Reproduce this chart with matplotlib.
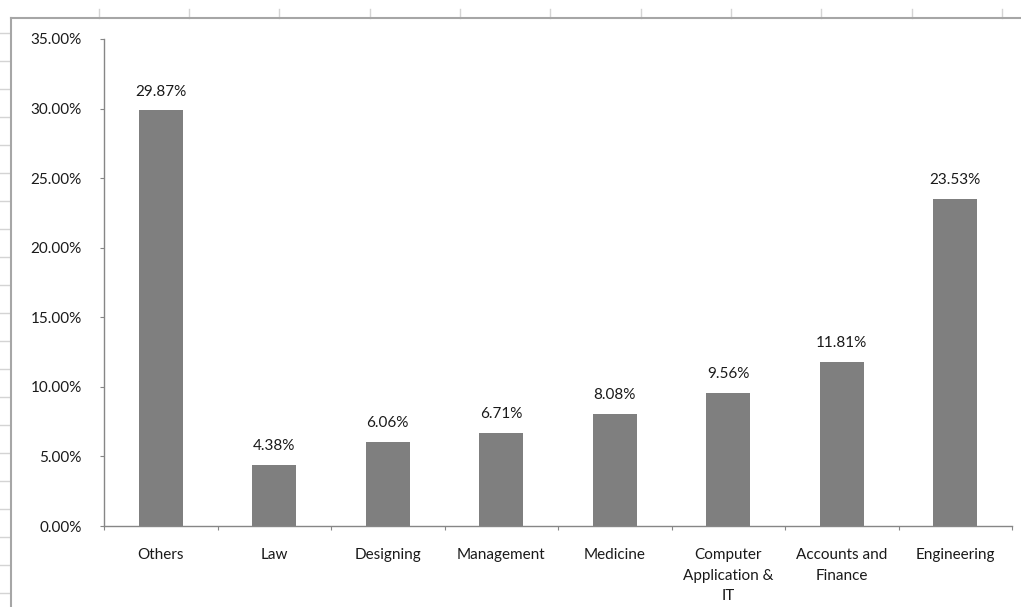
import matplotlib
matplotlib.use("Agg")
import matplotlib.pyplot as plt
from matplotlib.lines import Line2D

categories=["Others","Law","Designing","Management","Medicine",
            "Computer\nApplication &\nIT","Accounts and\nFinance","Engineering"]
shares=[29.87,4.38,6.06,6.71,8.08,9.56,11.81,23.53]
y_ticks=[0,5,10,15,20,25,30,35]

plt.rcParams["font.family"]=["Lato","DejaVu Sans"]

W,H=1021,607
fig=plt.figure(figsize=(W/100,H/100),dpi=100)
fig.patch.set_facecolor("white")

# spreadsheet cell marks around the chart object
grid_c="#d4d4d4"
for x in [99,189,279,370,460,550,641,731,821,912,1002]:
    fig.add_artist(Line2D([x/W,x/W],[1-9/H,1-18/H],color=grid_c,lw=1))
for y in range(33,607,28):
    fig.add_artist(Line2D([0,10/W],[1-y/H,1-y/H],color=grid_c,lw=1))
# chart border
fig.add_artist(Line2D([11/W,1],[1-18/H,1-18/H],color="#a6a6a6",lw=1.5))
fig.add_artist(Line2D([11/W,11/W],[1-18/H,0],color="#a6a6a6",lw=1.5))

ax=fig.add_axes([104/W,1-526/H,(1012-104)/W,(526-39)/H])
x=list(range(len(categories)))
bars=ax.bar(x,shares,width=0.39,color="#7f7f7f")
for xi,v in zip(x,shares):
    ax.text(xi,v+0.85,f"{v:.2f}%",ha="center",va="bottom",fontsize=11,color="#1a1a1a")

ax.set_xlim(-0.5,len(categories)-0.5)
ax.set_ylim(0,35)
ax.set_yticks(y_ticks)
ax.set_yticklabels([f"{t:.2f}%" for t in y_ticks],fontsize=11,color="#1a1a1a")
ax.set_xticks([i-0.5 for i in range(len(categories)+1)],minor=False)
ax.set_xticklabels([])
ax.set_xticks(x,minor=True)
ax.set_xticklabels(categories,minor=True,fontsize=11,color="#1a1a1a",linespacing=1.6,va="top")
ax.tick_params(axis="x",which="minor",length=0,pad=16)
ax.tick_params(axis="x",which="major",length=3,color="#868686",direction="out")
ax.tick_params(axis="y",length=3,color="#868686",direction="out",pad=13)
for s in ["top","right"]:
    ax.spines[s].set_visible(False)
for s in ["left","bottom"]:
    ax.spines[s].set_color("#868686")
    ax.spines[s].set_linewidth(1)

fig.savefig("out.png",dpi=100)
